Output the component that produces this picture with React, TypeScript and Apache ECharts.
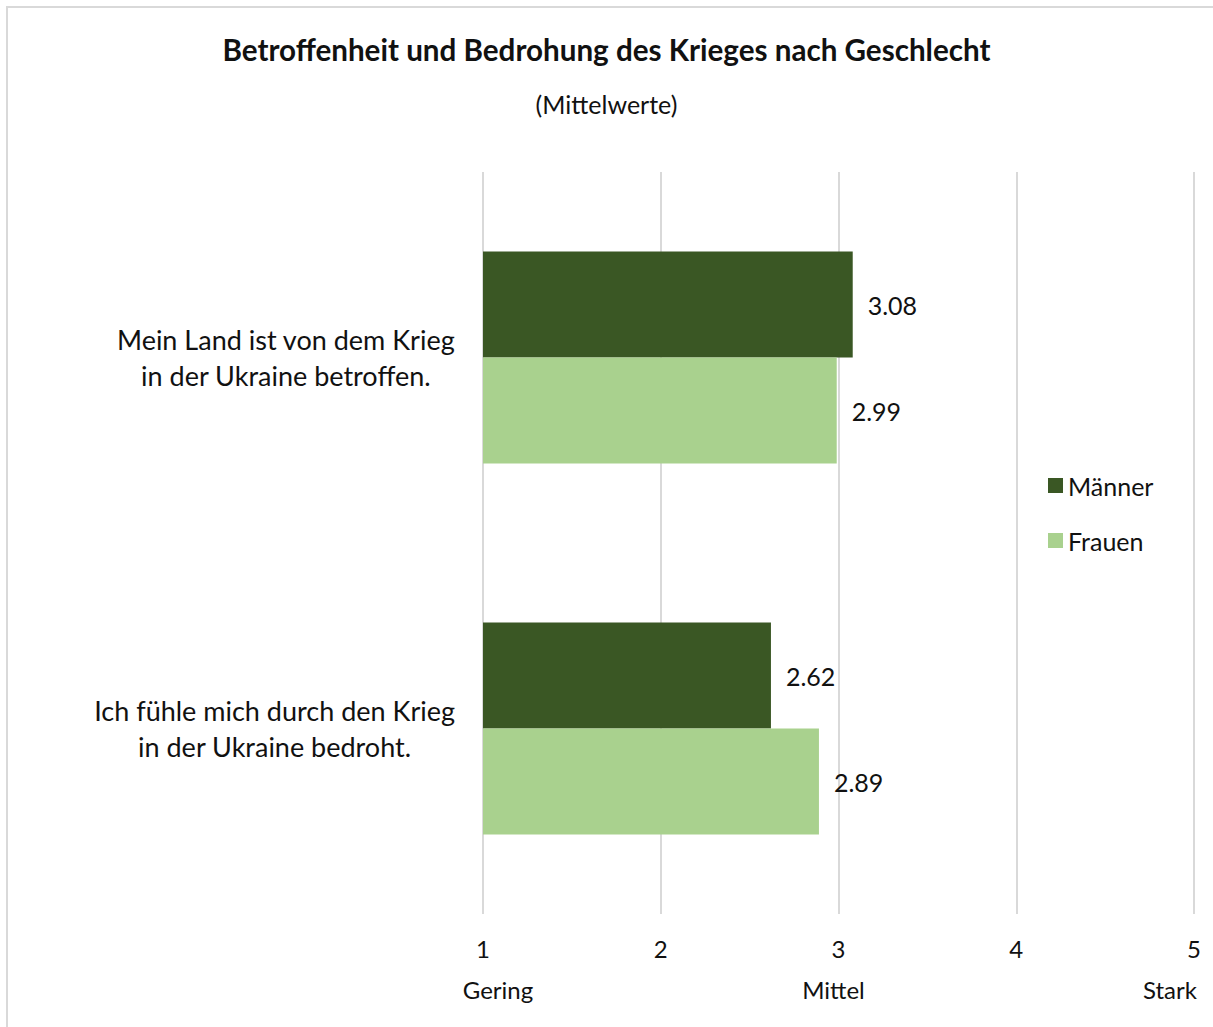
import React, { useEffect, useRef } from "react";
import * as echarts from "echarts";

const categories = [
  "Mein Land ist von dem Krieg\nin der Ukraine betroffen.",
  "Ich fühle mich durch den Krieg\nin der Ukraine bedroht.",
];
const seriesNames = ["Männer", "Frauen"];
const maennerValues = [3.08, 2.62];
const frauenValues = [2.99, 2.89];
const tickValues = [1, 2, 3, 4, 5];
const anchorValues = [1, 3, 5];
const anchorTexts = ["Gering", "Mittel", "Stark"];
const anchorOffsets = [15, -5, -24];

const FONT = "Lato";
const TXT = "#111111";
const DARK = "#3A5724";
const LIGHT = "#A9D18E";

export default function App() {
  const ref = useRef<HTMLDivElement>(null);
  useEffect(() => {
    if (!ref.current) return;
    const chart = echarts.init(ref.current, null, { renderer: "svg" });
    const option: any = {
      animation: false,
      backgroundColor: "#ffffff",
      textStyle: { fontFamily: FONT, color: TXT },
      title: [
        {
          text: "Betroffenheit und Bedrohung des Krieges nach Geschlecht",
          left: "center",
          top: 29,
          textStyle: { fontFamily: FONT, fontWeight: "bold", fontSize: 29.6, color: TXT },
        },
        {
          text: "(Mittelwerte)",
          left: "center",
          top: 86,
          textStyle: { fontFamily: FONT, fontWeight: "normal", fontSize: 25, color: TXT },
        },
      ],
      legend: {
        orient: "vertical",
        left: 1043,
        top: 468,
        itemWidth: 15,
        itemHeight: 15,
        itemGap: 30,
        icon: "rect",
        data: seriesNames,
        textStyle: { fontFamily: FONT, fontSize: 25, color: TXT },
      },
      grid: { left: 483, right: 19, top: 172, bottom: 113 },
      xAxis: {
        type: "value",
        min: tickValues[0],
        max: tickValues[tickValues.length - 1],
        interval: 1,
        axisLine: { show: false },
        axisTick: { show: false },
        splitLine: { show: true, lineStyle: { color: "#d9d9d9", width: 2 } },
        axisLabel: { fontFamily: FONT, fontSize: 24, color: TXT, margin: 22 },
      },
      yAxis: {
        type: "category",
        inverse: true,
        data: categories,
        axisLine: { show: false },
        axisTick: { show: false },
        axisLabel: {
          margin: 28,
          lineHeight: 36,
          formatter: (v: string) =>
            v
              .split("\n")
              .map((l) => `{c|${l}}`)
              .join("\n"),
          rich: {
            c: { align: "center", fontFamily: FONT, fontSize: 27, color: TXT, lineHeight: 36 },
          },
        },
      },
      series: [
        {
          name: seriesNames[0],
          type: "bar",
          data: maennerValues,
          barWidth: 106,
          barGap: "0%",
          itemStyle: { color: DARK },
          label: {
            show: true,
            position: "right",
            distance: 15,
            formatter: (p: any) => p.value.toFixed(2),
            fontFamily: FONT,
            fontSize: 25,
            color: TXT,
          },
        },
        {
          name: seriesNames[1],
          type: "bar",
          data: frauenValues,
          barWidth: 106,
          barGap: "0%",
          itemStyle: { color: LIGHT },
          label: {
            show: true,
            position: "right",
            distance: 15,
            formatter: (p: any) => p.value.toFixed(2),
            fontFamily: FONT,
            fontSize: 25,
            color: TXT,
          },
        },
      ],
    };
    chart.setOption(option);
    const graphics: any[] = [
      {
        type: "rect",
        shape: { x: 7, y: 7, width: 1300, height: 1100 },
        style: { fill: "none", stroke: "#d9d9d9", lineWidth: 2 },
        silent: true,
        z: -1,
      },
    ];
    anchorValues.forEach((v, i) => {
      const px = chart.convertToPixel({ xAxisIndex: 0 }, v) as number;
      graphics.push({
        type: "text",
        x: px + anchorOffsets[i],
        y: 989,
        style: {
          text: anchorTexts[i],
          fontFamily: FONT,
          fontSize: 24,
          fill: TXT,
          align: "center",
          verticalAlign: "middle",
        },
      });
    });
    chart.setOption({ graphic: graphics });
    return () => chart.dispose();
  }, []);
  return (
    <div
      ref={ref}
      style={{ position: "absolute", left: 0, top: 0, width: 1213, height: 1027 }}
    />
  );
}
